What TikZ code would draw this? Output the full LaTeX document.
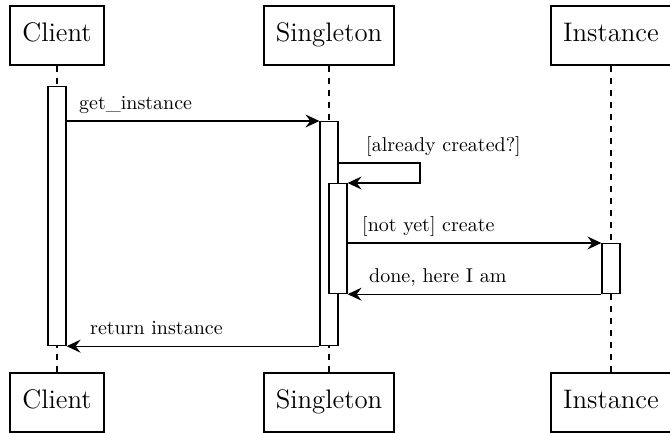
\documentclass[tikz,border=0pt]{standalone}
\usepackage{tikz}
\usetikzlibrary{arrows.meta}
\tikzset{>={Stealth[length=7,width=6.5,inset=2.5]}}

\begin{document}
\begin{tikzpicture}[x=0.5pt,y=-0.5pt,
    box/.style={draw,line width=1pt,minimum height=29.5pt,inner xsep=6pt,font=\fontsize{13.4}{15}\selectfont},
    bar/.style={draw,fill=white,line width=0.6pt,minimum width=9pt,inner sep=0pt,anchor=north},
    life/.style={line width=0.6pt,dash pattern=on 3pt off 3pt},
    arrow/.style={->,line width=0.6pt},
    msg/.style={font=\fontsize{10}{12}\selectfont,anchor=south west,inner sep=2pt,pos=0}]
    \useasboundingbox (0,0) rectangle (670,433);

    \node[box] (C) at (57,35.5) {\strut Client};
    \node[box] (S) at (329,35.5) {\strut Singleton};
    \node[box] (I) at (611,35.5) {\strut Instance};
    \node[box] (C2) at (57,402.5) {\strut Client};
    \node[box] (S2) at (329,402.5) {\strut Singleton};
    \node[box] (I2) at (611,402.5) {\strut Instance};

    \draw[life] (C) -- (C2);
    \draw[life] (S) -- (S2);
    \draw[life] (I) -- (I2);

    \node[bar,minimum height=129.5pt] (cbar) at (57,86) {};
    \node[bar,minimum height=112pt] (sbar) at (329,121) {};
    \node[bar,minimum height=55pt] (nbar) at (338,183) {};
    \node[bar,minimum height=25pt] (ibar) at (611,243) {};
    \coordinate (loop) at (420,163);

    \draw[arrow] (cbar.east |- sbar.north) -- (sbar.north west) node[msg,xshift=4pt] {\strut get\_instance};
    \draw[arrow] (sbar.east |- loop) -- node[msg,xshift=11.5pt] {\strut [already created?]} (loop) |- (nbar.north east);
    \draw[arrow] (nbar.east |- ibar.north) -- (ibar.north west) node[msg,xshift=5pt] {\strut [not yet] create};
    \draw[arrow] (ibar.south west) -- (nbar.east |- ibar.south) node[msg,pos=1,xshift=8.5pt] {\strut done, here I am};
    \draw[arrow] (sbar.south west) -- (cbar.south east) node[msg,pos=1,xshift=9.5pt] {\strut return instance};
\end{tikzpicture}
\end{document}
